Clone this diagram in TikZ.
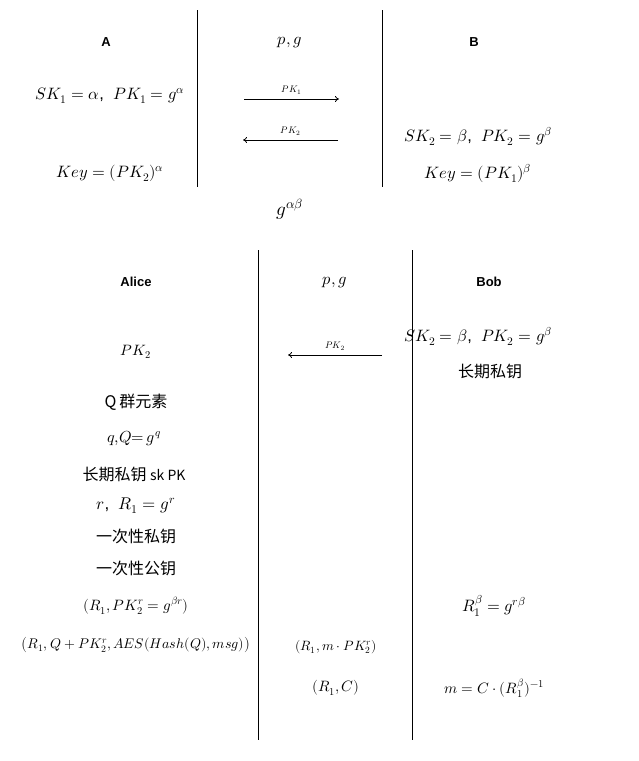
\documentclass[tikz,border=0pt]{standalone}
\usepackage{fontspec}
\usepackage{unicode-math}
\setmainfont{Liberation Sans}
\setmathfont{Latin Modern Math}
\newfontfamily\cjk{Noto Sans CJK SC}
\usetikzlibrary{arrows.meta}
\begin{document}
\begin{tikzpicture}[x=1pt,y=-1pt,inner sep=0pt,
  lbl/.style={font=\fontsize{13}{15}\selectfont\bfseries},
  mth/.style={font=\fontsize{16.5}{18}\selectfont},
  sml/.style={font=\fontsize{9.5}{10}\selectfont},
  zh/.style={font=\fontsize{16}{18}\selectfont\cjk},
  big/.style={font=\fontsize{15}{17}\selectfont},
  sep/.style={line width=1pt},
  msg/.style={line width=0.8pt,-{To[length=4pt,width=6pt]}}]
\useasboundingbox (0,0) rectangle (638,761);
% top section
\coordinate (t1a) at (197,10); \coordinate (t1b) at (197,187);
\coordinate (t2a) at (382,10); \coordinate (t2b) at (382,187);
\draw[sep] (t1a) -- (t1b);
\draw[sep] (t2a) -- (t2b);
\node[lbl] (A) at (106,42) {A};
\node[mth] (pg1) at (290,43) {$p,g$};
\node[lbl] (B) at (474,42) {B};
\node[mth] (skA) at (110,96) {$SK_1=\alpha$,\ \ $PK_1=g^{\alpha}$};
\coordinate (a1s) at (244,99); \coordinate (a1e) at (339,99);
\draw[msg] (a1s) -- node[sml,above=4pt] {$PK_1$} (a1e);
\coordinate (a2s) at (338,140); \coordinate (a2e) at (243,140);
\draw[msg] (a2s) -- node[sml,above=4pt] {$PK_2$} (a2e);
\node[mth] (skB) at (478,136) {$SK_2=\beta$,\ \ $PK_2=g^{\beta}$};
\node[mth] (keyA) at (110,173) {$Key=(PK_2)^{\alpha}$};
\node[mth] (keyB) at (478,173) {$Key=(PK_1)^{\beta}$};
\node[font=\fontsize{19}{21}\selectfont] (gab) at (290,209) {$g^{\alpha\beta}$};
% bottom section
\coordinate (b1a) at (258,250); \coordinate (b1b) at (258,740);
\coordinate (b2a) at (412,250); \coordinate (b2b) at (412,740);
\draw[sep] (b1a) -- (b1b);
\draw[sep] (b2a) -- (b2b);
\node[lbl] (alice) at (136,282) {Alice};
\node[mth] (pg2) at (335,283) {$p,g$};
\node[lbl] (bob) at (489,282) {Bob};
\node[mth] (skB2) at (478,336) {$SK_2=\beta$,\ \ $PK_2=g^{\beta}$};
\node[zh] (ltB) at (490,371) {长期私钥};
\coordinate (a3s) at (382,355); \coordinate (a3e) at (288,355);
\draw[msg] (a3s) -- node[sml,above=4pt] {$PK_2$} (a3e);
\node[font=\fontsize{15}{17}\selectfont] (pk2A) at (136,352) {$PK_2$};
\node[zh] (Qg) at (136,402) {Q\,群元素};
\node[font=\fontsize{16}{18}\selectfont] (qQ) at (134,438) {$q{,}Q{=}\,g^{q}$};
\node[zh] (ltA) at (134,474) {长期私钥\ {\fontsize{14}{16}\selectfont sk PK}};
\node[font=\fontsize{17}{19}\selectfont] (rR) at (136,506) {$r$,\ \ $R_1=g^{r}$};
\node[zh] (otsk) at (136,536) {一次性私钥};
\node[zh] (otpk) at (136,568) {一次性公钥};
\node[big] (pair) at (136,606) {$(R_1,PK_2^{r}=g^{\beta r})$};
\node[font=\fontsize{14}{16}\selectfont] (ct) at (136,645) {$\bigl(R_1,Q+PK_2^{r},AES(Hash(Q),msg)\bigr)$};
\node[font=\fontsize{13.5}{16}\selectfont] (mc) at (336,647) {$(R_1,m\cdot PK_2^{r})$};
\node[big] (RC) at (336,688) {$(R_1,C)$};
\node[font=\fontsize{16.5}{18}\selectfont] (Rb) at (494,606) {$R_1^{\beta}=g^{r\beta}$};
\node[big] (mm) at (494,688) {$m=C\cdot(R_1^{\beta})^{-1}$};
\end{tikzpicture}
\end{document}
